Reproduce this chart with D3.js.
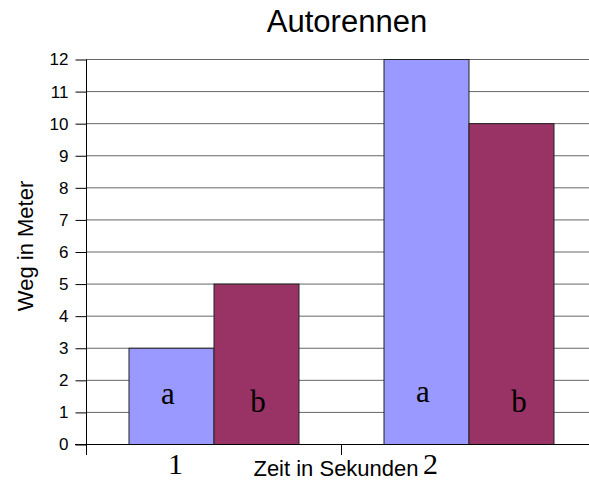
<!DOCTYPE html>
<html>
<head>
<meta charset="utf-8">
<script src="https://cdn.jsdelivr.net/npm/d3@7"></script>
<style>
  body { margin: 0; background: #fff; }
  svg { display: block; }
</style>
</head>
<body>
<svg id="chart"></svg>
<script>
(function(){
"use strict";

// data
const categories = ["1", "2"];
const series = ["a", "b"];
const values = {
  a: [3, 12],
  b: [5, 10]
};
const colors = { a: "#9999ff", b: "#993366" };
const yTicks = [0, 1, 2, 3, 4, 5, 6, 7, 8, 9, 10, 11, 12];

let width = 589, height = 481;
let svg = d3.select("#chart").attr("width", width).attr("height", height);

let left = 86, right = 596, top = 59, bottom = 444;

let x = d3.scaleBand().domain(categories).range([left, right]).padding(0);
let xs = d3.scaleBand().domain(series).range([0, x.bandwidth()])
  .paddingInner(0).paddingOuter(0.5);
let y = d3.scaleLinear().domain([0, 12]).range([bottom, top]);

// grid lines
svg.append("g").selectAll("line")
  .data(yTicks.filter(d => d > 0))
  .enter().append("line")
    .attr("x1", left).attr("x2", right)
    .attr("y1", d => y(d) + 0.5).attr("y2", d => y(d) + 0.5)
    .attr("stroke", "#666").attr("stroke-width", 1);

// bars
let rows = [];
categories.forEach((c, i) => series.forEach(s => rows.push({c, s, v: values[s][i]})));

svg.append("g").selectAll("rect")
  .data(rows)
  .enter().append("rect")
    .attr("x", d => x(d.c) + xs(d.s) + 0.5)
    .attr("y", d => y(d.v) + 0.5)
    .attr("width", xs.bandwidth())
    .attr("height", d => y(0) - y(d.v))
    .attr("fill", d => colors[d.s])
    .attr("stroke", "#222").attr("stroke-width", 1);

// letters inside bars
const letterDx = { a: -3, b: 2 };
const letterBase = { a: 404, b: 412 };
svg.append("g").selectAll("text")
  .data(rows)
  .enter().append("text")
    .attr("x", d => x(d.c) + xs(d.s) + xs.bandwidth() / 2 + letterDx[d.s] + (d.c === "2" && d.s === "b" ? 6 : 0))
    .attr("y", d => letterBase[d.s] - (d.c === "2" && d.s === "a" ? 2 : 0))
    .attr("text-anchor", "middle")
    .attr("font-family", "'Liberation Serif', 'Times New Roman', serif")
    .attr("font-size", 31)
    .attr("fill", "#000")
    .text(d => d.s);

// y axis
let yAxis = d3.axisLeft(y).tickValues(yTicks).tickSize(11).tickPadding(7);
let gy = svg.append("g").attr("transform", "translate(" + (left + 0.5) + ",0.5)").call(yAxis);
gy.attr("font-size", null).attr("font-family", null);
gy.select(".domain").attr("stroke", "#000");
gy.selectAll(".tick line").attr("stroke", "#000");
gy.selectAll(".tick text")
  .attr("font-family", "'Liberation Sans', Arial, sans-serif")
  .style("font-size", "17px").attr("fill", "#000");
gy.select(".domain").attr("d", "M0," + (bottom - 0.5 + 11) + "V" + top);

// x axis line and ticks
svg.append("line")
  .attr("x1", left - 11).attr("x2", right)
  .attr("y1", bottom + 0.5).attr("y2", bottom + 0.5)
  .attr("stroke", "#000");
let xTickPos = categories.map(c => x(c)).concat([x(categories[categories.length - 1]) + x.bandwidth()]);
svg.append("g").selectAll("line")
  .data(xTickPos)
  .enter().append("line")
    .attr("x1", d => d + 0.5).attr("x2", d => d + 0.5)
    .attr("y1", bottom).attr("y2", bottom + 11)
    .attr("stroke", "#000");

// category labels
svg.append("g").selectAll("text")
  .data(categories)
  .enter().append("text")
    .attr("x", d => x(d) + x.bandwidth() / 2 - 38)
    .attr("y", 474)
    .attr("text-anchor", "middle")
    .attr("font-family", "'Liberation Serif', 'Times New Roman', serif")
    .attr("font-size", 30)
    .attr("fill", "#000")
    .text(d => d);

// titles
svg.append("text")
  .attr("x", 347).attr("y", 32)
  .attr("text-anchor", "middle")
  .attr("font-family", "'Liberation Sans', Arial, sans-serif")
  .attr("font-size", 31)
  .text("Autorennen");

svg.append("text")
  .attr("x", 336).attr("y", 476)
  .attr("text-anchor", "middle")
  .attr("font-family", "'Liberation Sans', Arial, sans-serif")
  .attr("font-size", 22)
  .text("Zeit in Sekunden");

svg.append("text")
  .attr("transform", "translate(33,246) rotate(-90)")
  .attr("text-anchor", "middle")
  .attr("font-family", "'Liberation Sans', Arial, sans-serif")
  .attr("font-size", 22)
  .text("Weg in Meter");

})();
</script>
</body>
</html>
